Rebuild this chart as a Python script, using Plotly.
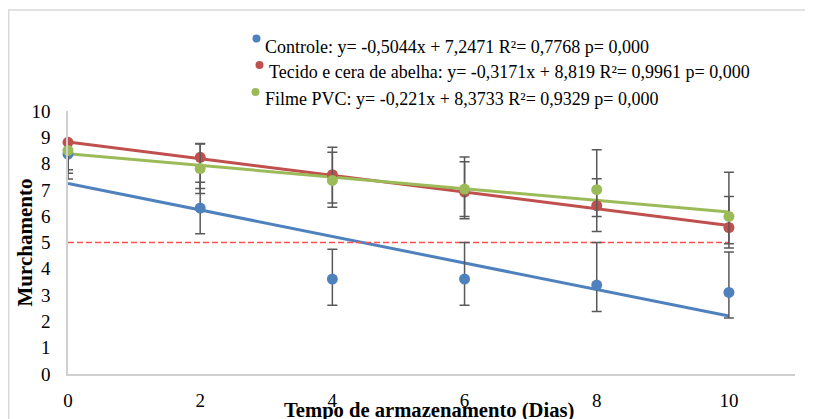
import numpy as np
import plotly.graph_objects as go

dias = [0, 2, 4, 6, 8, 10]

controle = [8.36, 6.31, 3.61, 3.61, 3.38, 3.10]
tecido = [8.81, 8.24, 7.58, 6.92, 6.40, 5.57]
pvc = [8.50, 7.81, 7.36, 7.03, 7.01, 5.99]

controle_err_plus = [0.0, 0.98, 1.13, 1.39, 1.62, 1.54]
controle_err_minus = [0.95, 0.98, 1.00, 1.00, 1.00, 0.97]
tecido_err_plus = [0.0, 0.51, 1.04, 1.15, 1.02, 1.18]
tecido_err_minus = [1.18, 1.19, 1.08, 0.93, 0.41, 0.78]
pvc_err_plus = [0.0, 0.95, 1.07, 1.22, 1.52, 1.68]
pvc_err_minus = [0.73, 0.95, 1.02, 1.13, 1.59, 1.04]

slopes = [-0.5044, -0.3171, -0.221]
intercepts = [7.2471, 8.819, 8.3733]

labels = [
    "Controle: y= -0,5044x + 7,2471 R²= 0,7768 p= 0,000",
    "Tecido e cera de abelha: y= -0,3171x + 8,819 R²= 0,9961 p= 0,000",
    "Filme PVC: y= -0,221x + 8,3733 R²= 0,9329 p= 0,000",
]
limite = 5

colors = ["#4F81BD", "#C0504D", "#9BBB59"]
series = [controle, tecido, pvc]
err_plus = [controle_err_plus, tecido_err_plus, pvc_err_plus]
err_minus = [controle_err_minus, tecido_err_minus, pvc_err_minus]

FONT = "Liberation Serif"
fig = go.Figure()

x_line = np.array([dias[0], dias[-1]], dtype=float)
for i in range(3):
    fig.add_trace(go.Scatter(
        x=x_line, y=slopes[i] * x_line + intercepts[i], mode="lines",
        line=dict(color=colors[i], width=3), showlegend=False,
        hoverinfo="skip"))

fig.add_trace(go.Scatter(
    x=[dias[0], dias[-1]], y=[limite, limite], mode="lines",
    line=dict(color="#FF4F4F", width=1.5, dash="6px,3px"), showlegend=False,
    hoverinfo="skip"))

for i in range(3):
    fig.add_trace(go.Scatter(
        x=dias, y=series[i], mode="markers", name=labels[i],
        marker=dict(color=colors[i], size=11),
        cliponaxis=False, showlegend=False,
        error_y=dict(type="data", symmetric=False, array=err_plus[i],
                     arrayminus=err_minus[i], color="#595959",
                     thickness=1.5, width=5)))

L, T, PW, PH = 60, 103, 727, 263
# window pixel -> paper (window has an 8px page offset)
def px(xw):
    return (xw - (L + 8)) / PW
def py(yw):
    return (T + 8 + PH - yw) / PH

# legend layout (manual, window pixels)
leg_text_x = [262.5, 266.5, 262.5]
leg_text_y = [46.5, 72.0, 99.5]
leg_dot_x = [256.5, 259.5, 255.5]
leg_dot_y = [38.5, 65.0, 92.0]

annotations = [
    dict(text="<b>Tempo de armazenamento (Dias)</b>", xref="paper", yref="paper",
         x=0.497, y=py(410), xanchor="center", yanchor="middle",
         showarrow=False, font=dict(family=FONT, size=20.6)),
    dict(text="<b>Murchamento</b>", xref="paper", yref="paper",
         x=px(24), y=0.5, xanchor="center", yanchor="middle",
         textangle=-90, showarrow=False, font=dict(family=FONT, size=21)),
]
shapes = [
    dict(type="rect", xref="paper", yref="paper",
         x0=px(8.75), x1=1.2, y0=-0.5, y1=py(10),
         line=dict(color="#D9D9D9", width=1.5), layer="below"),
]
for i in range(3):
    annotations.append(dict(
        text=labels[i], xref="paper", yref="paper", x=px(leg_text_x[i]),
        y=py(leg_text_y[i]), xanchor="left", yanchor="middle", showarrow=False,
        font=dict(family=FONT, size=18, color="black")))
    shapes.append(dict(
        type="circle", xref="paper", yref="paper", xsizemode="pixel",
        ysizemode="pixel", xanchor=px(leg_dot_x[i]), yanchor=py(leg_dot_y[i]),
        x0=-4, x1=4, y0=-4, y1=4, fillcolor=colors[i],
        line=dict(width=0), layer="above"))

fig.update_layout(
    width=813, height=419,
    margin=dict(l=L, r=813 - L - PW, t=T, b=419 - T - PH),
    paper_bgcolor="white", plot_bgcolor="white",
    font=dict(family=FONT, size=18, color="black"),
    showlegend=False,
    xaxis=dict(range=[0, 11], tickvals=dias, showgrid=False, zeroline=False,
               showline=True, linecolor="#D0D0D0", linewidth=1.5,
               ticks="", ticklabelstandoff=8,
               tickfont=dict(family=FONT, size=19)),
    yaxis=dict(range=[0, 10], dtick=1, showgrid=False, zeroline=False,
               showline=True, linecolor="#D0D0D0", linewidth=1.5,
               ticks="", ticklabelstandoff=12,
               tickfont=dict(family=FONT, size=19)),
    annotations=annotations,
    shapes=shapes,
)

fig.write_html("out.html")
